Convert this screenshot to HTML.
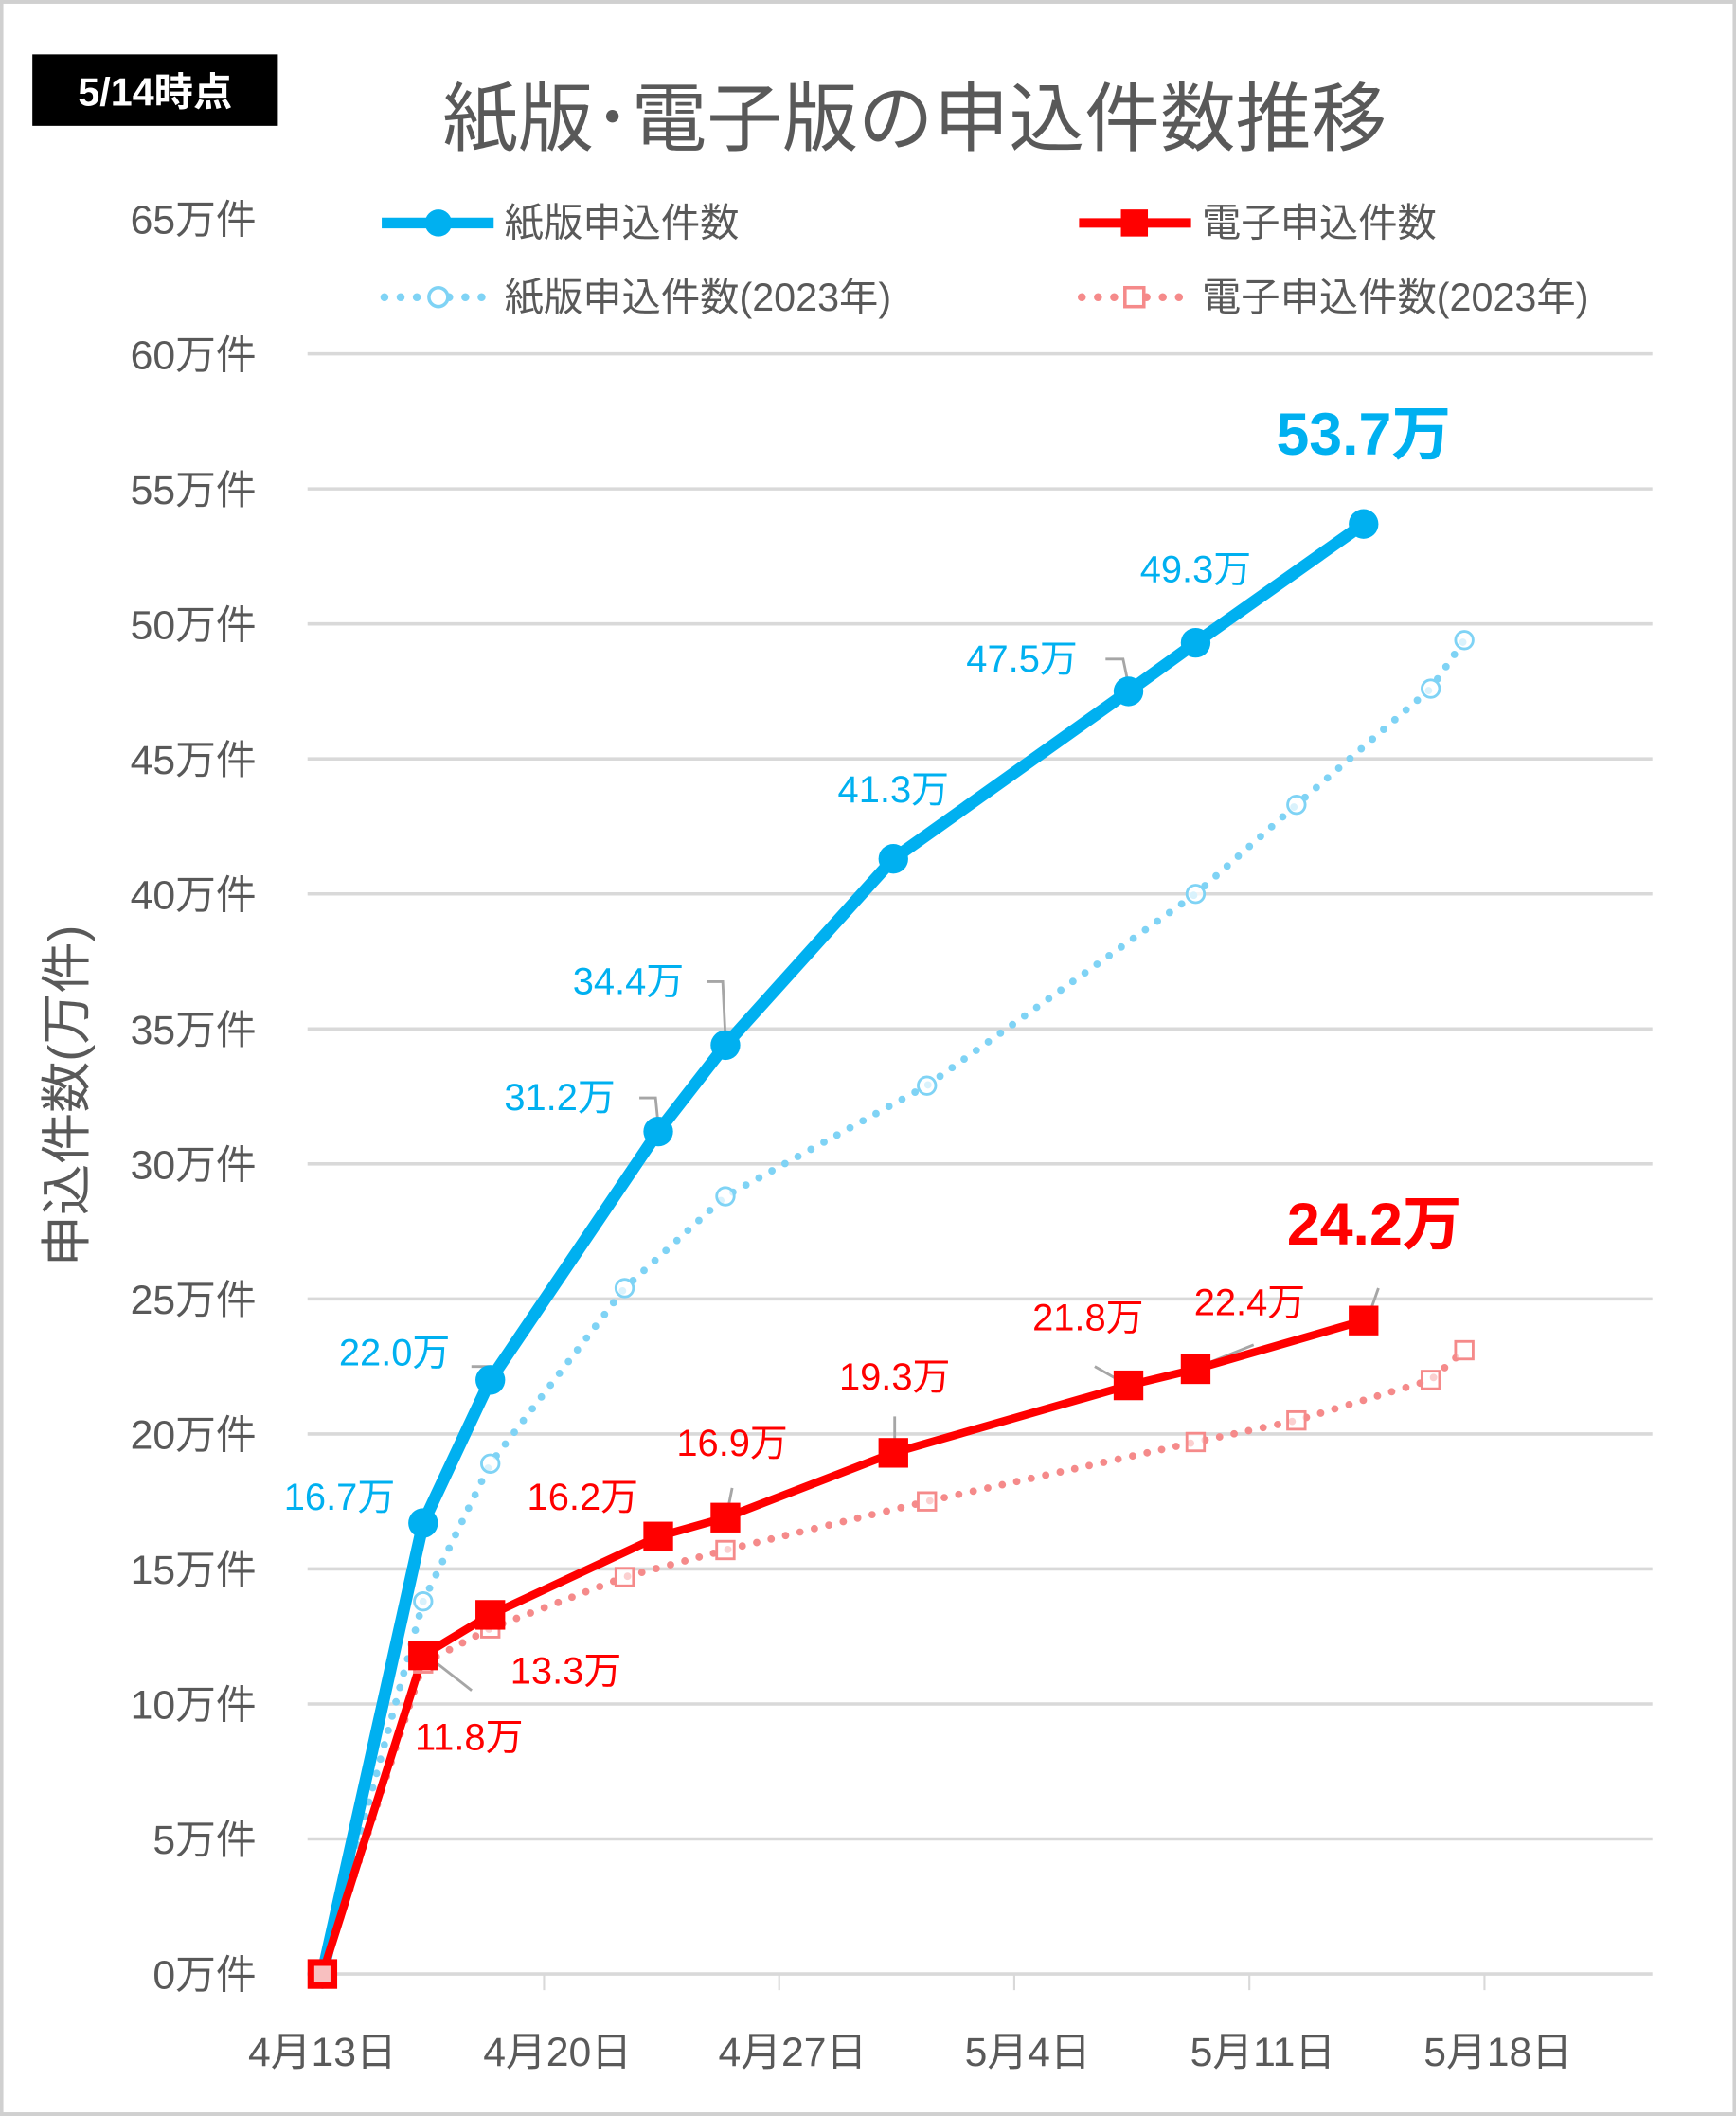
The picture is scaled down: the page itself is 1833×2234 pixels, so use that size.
<!DOCTYPE html>
<html><head><meta charset="utf-8"><style>
html,body{margin:0;padding:0;background:#fff}
svg{display:block}
text{font-family:"Liberation Sans","Noto Sans CJK JP",sans-serif}
</style></head><body>
<svg id="chart" width="1833" height="2234" viewBox="0 0 1287 1568" xmlns="http://www.w3.org/2000/svg">
<rect x="1" y="1" width="1285" height="1566" fill="#fff" stroke="#d0d0d0" stroke-width="3"/>
<rect x="24" y="40" width="182" height="53" fill="#000"/>
<text x="115" y="78" fill="#fff" font-size="29" font-weight="bold" text-anchor="middle">5/14時点</text>
<text x="678" y="107" fill="#595959" font-size="56" text-anchor="middle">紙版･電子版の申込件数推移</text>
<text transform="translate(50,812) rotate(-90)" fill="#595959" font-size="38" text-anchor="middle" dominant-baseline="central">申込件数(万件)</text>
<g id="grid"></g><g id="axis"></g><g id="leaders"></g><g id="series"></g><g id="labels"></g>
<g>
<g><line x1="283" y1="165" x2="366" y2="165" stroke="#00b0f0" stroke-width="8"/><circle cx="325" cy="165" r="10" fill="#00b0f0"/><text x="374" y="175" font-size="29" fill="#595959">紙版申込件数</text></g>
<g><line x1="800" y1="165" x2="883" y2="165" stroke="#ff0000" stroke-width="7"/><rect x="831" y="155" width="20" height="20" fill="#ff0000"/><text x="891" y="175" font-size="29" fill="#595959">電子申込件数</text></g>
<g><line x1="285" y1="220" x2="366" y2="220" stroke="#7fd3f5" stroke-width="6" stroke-dasharray="0 12" stroke-linecap="round"/><circle cx="325" cy="220" r="7" fill="#fff" stroke="#7fd3f5" stroke-width="2.5"/><text x="374" y="230" font-size="29" fill="#595959">紙版申込件数(2023年)</text></g>
<g><line x1="802" y1="220" x2="883" y2="220" stroke="#f58a8a" stroke-width="6" stroke-dasharray="0 12" stroke-linecap="round"/><rect x="834" y="213" width="14" height="14" fill="#fff" stroke="#f58a8a" stroke-width="2.5"/><text x="891" y="230" font-size="29" fill="#595959">電子申込件数(2023年)</text></g>
</g>
</svg>
<script>
const dateLabels = ["4月13日","4月20日","4月27日","5月4日","5月11日","5月18日"];
const yTicks = [0,5,10,15,20,25,30,35,40,45,50,55,60,65];
const days2024 = [0,3,5,10,12,17,24,26,31];
const paper2024 = [0,16.7,22.0,31.2,34.4,41.3,47.5,49.3,53.7];
const elec2024 = [0,11.8,13.3,16.2,16.9,19.3,21.8,22.4,24.2];
const days2023 = [0,3,5,9,12,18,26,29,33,34];
const paper2023 = [0,13.8,18.9,25.4,28.8,32.9,40.0,43.3,47.6,49.4];
const elec2023 = [0,11.5,12.8,14.7,15.7,17.5,19.7,20.5,22.0,23.1];

const NS="http://www.w3.org/2000/svg";
const x = d => 239 + d*24.9;
const y = v => 1463 - v*20.016;
function mk(tag, attrs, parent, txt){const e=document.createElementNS(NS,tag);for(const k in attrs)e.setAttribute(k,attrs[k]);if(txt!==undefined)e.textContent=txt;document.getElementById(parent).appendChild(e);return e;}

yTicks.forEach(v=>{
  if(v>0 && v<=60){const g=mk('line',{x1:228,x2:1225,y1:y(v),y2:y(v),stroke:'#d9d9d9','stroke-width':2.5},'grid');
  
  }
  const t=mk('text',{x:190,y:y(v)+11,'font-size':30,fill:'#595959','text-anchor':'end'},'axis',v+'万件');
  
  
});
const base=mk('line',{x1:228,x2:1225,y1:y(0),y2:y(0),stroke:'#d9d9d9','stroke-width':2.5},'grid');


dateLabels.forEach((s,i)=>{
  const d=i*7;
  if(i>0){const tk=mk('line',{x1:x(d-0.4),x2:x(d-0.4),y1:y(0),y2:y(0)+12,stroke:'#d9d9d9','stroke-width':1.5},'axis');
  
  }
  const t=mk('text',{x:x(d),y:1531,'font-size':30,fill:'#595959','text-anchor':'middle'},'axis',s);
  
  
});

function line(days,vals,color,w,dotted,name){
  const p=mk('polyline',{points:days.map((d,i)=>x(d)+','+y(vals[i])).join(' '),fill:'none',stroke:color,'stroke-width':w,'stroke-linejoin':'round'},'series');
  if(dotted){p.setAttribute('stroke-dasharray','0 11');p.setAttribute('stroke-linecap','round');}
  
  
}
line(days2023,paper2023,'#7fd3f5',5.5,true,'paper-2023-line');
line(days2023,elec2023,'#f58a8a',5.5,true,'electronic-2023-line');
line(days2024,paper2024,'#00b0f0',9,false,'paper-line');
line(days2024,elec2024,'#ff0000',6,false,'electronic-line');
days2023.forEach((d,i)=>{
  const c=mk('circle',{cx:x(d),cy:y(paper2023[i]),r:6.5,fill:'#fff','fill-opacity':0.7,stroke:'#7fd3f5','stroke-width':2},'series');
  
  
  const r=mk('rect',{x:x(d)-6.5,y:y(elec2023[i])-6.5,width:13,height:13,fill:'#fff','fill-opacity':0.6,stroke:'#f58a8a','stroke-width':2},'series');
  
  
});
days2024.forEach((d,i)=>{
  const c=mk('circle',{cx:x(d),cy:y(paper2024[i]),r:11,fill:'#00b0f0'},'series');
  
  
  const r=mk('rect',{x:x(d)-11,y:y(elec2024[i])-11,width:22,height:22,fill:'#ff0000'},'series');
  
  
});
const r0=mk('rect',{x:x(0)-6,y:y(0)-6,width:12,height:12,fill:'#f8c0c0'},'series');



const paperOff=[null,[-62,-19],[-71,-20],[-73,-25],[-72,-47],[0,-51],[-79,-24],[0,-54],[0,-66]];
const elecOff=[null,[34,61],[56,42],[-56,-29],[5,-55],[1,-56],[-30,-50],[40,-49],[8,-71]];
const paperLead=[null,null,[[-14,-10],[0,-10],[0,0]],[[-14,-25],[-2,-25],[0,-5]],[[-14,-47],[-2,-47],[0,-5]],null,[[-17,-24],[-4,-24],[0,-5]],null,null];
const elecLead=[null,[[36,26],[4,1]],null,null,[[5,-22],[1,-2]],[[1,-27],[1,-2]],[[-25,-14],[-4,-2]],[[43,-18],[3,-2]],[[11,-24],[4,-4]]];
function labels(vals,offs,leads,color,name){
  vals.forEach((v,i)=>{
    if(!offs[i])return;
    const px=x(days2024[i]), py=y(v);
    if(leads[i]){
      const l=mk('polyline',{points:leads[i].map(o=>(px+o[0])+','+(py+o[1])).join(' '),fill:'none',stroke:'#a6a6a6','stroke-width':2},'leaders');
      
      
    }
    const last=i===vals.length-1;
    const t=mk('text',{x:px+offs[i][0],y:py+offs[i][1],'font-size':last?44:28,'font-weight':last?'bold':'normal',fill:color,'text-anchor':'middle','dominant-baseline':'central'},'labels',v.toFixed(1)+'万');
    
    
  });
}
labels(paper2024,paperOff,paperLead,'#00b0f0','paper-data-label');
labels(elec2024,elecOff,elecLead,'#ff0000','electronic-data-label');
</script>
</body></html>
